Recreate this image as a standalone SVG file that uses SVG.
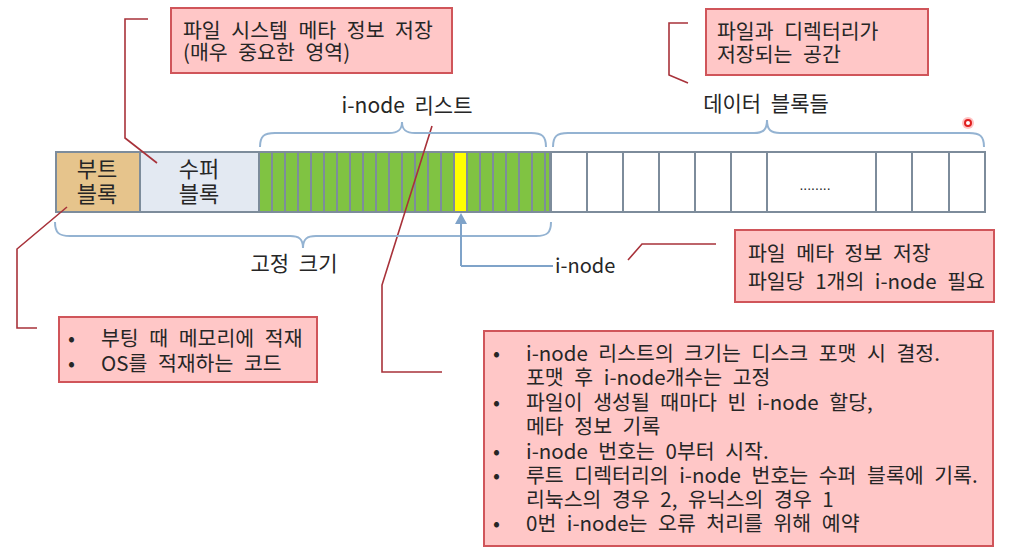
<svg xmlns="http://www.w3.org/2000/svg" width="1010" height="555" viewBox="0 0 1010 555">
<style>
text{font-family:"Noto Sans CJK KR","Noto Sans",sans-serif;fill:#262626;}
.tn{font-size:20.5px;word-spacing:6px;}
.tl{font-size:21px;word-spacing:5px;}
.tb{font-size:22px;}
.box{fill:#ffc7c7;stroke:#d0555a;stroke-width:2;}
.call{fill:none;stroke:#a8323a;stroke-width:1.6;}
.brace{fill:none;stroke:#94b3d2;stroke-width:2;}
.cell{stroke:#7d8c9b;stroke-width:2;}
.mid{text-anchor:middle;}
</style>
<rect width="1010" height="555" fill="#ffffff"/>

<g id="bar">
  <g id="boot-block">
    <rect x="56" y="152" width="84" height="60" fill="#e6c48c" class="cell"/>
    <text class="tb mid" x="97" y="177">부트<tspan x="97" dy="25">블록</tspan></text>
  </g>
  <g id="super-block">
    <rect x="140" y="152" width="119" height="60" fill="#e3e9f2" class="cell"/>
    <text class="tb mid" x="199" y="177">수퍼<tspan x="199" dy="25">블록</tspan></text>
  </g>
  <g id="inode-list">
    <rect x="259" y="152" width="291" height="60" fill="#80c342" class="cell"/>
    <rect x="454" y="153" width="13" height="58" fill="#ffff00"/>
    <path class="cell" d="M272,152V212M285,152V212M298,152V212M311,152V212M324,152V212M337,152V212M350,152V212M363,152V212M376,152V212M389,152V212M402,152V212M415,152V212M428,152V212M441,152V212M454,152V212M467,152V212M480,152V212M493,152V212M506,152V212M519,152V212M532,152V212M545,152V212"/>
  </g>
  <g id="data-blocks">
    <rect x="551" y="152" width="434" height="60" fill="#ffffff" class="cell"/>
    <path class="cell" d="M587,152V212M623,152V212M659,152V212M695,152V212M731,152V212M767,152V212M876,152V212M912,152V212M949,152V212"/>
    <text x="815" y="190" class="mid" style="font-size:14px;font-family:'Liberation Sans',sans-serif;">........</text>
  </g>
</g>

<g id="connectors">
  <path class="call" d="M148,19 H125 V138 L157,163"/>
  <path class="call" d="M67,207 L17,249 V328 H37"/>
  <path class="call" d="M432,126 L382,285 V372 H442"/>
  <path class="call" d="M688,23 H669 V75 L688,83"/>
  <path class="call" d="M628,260 L642,244 H716"/>
  <path class="brace" d="M260,147 C260,136 264,133 275,133 H389 C398,133 402,130 402,122 C402,130 406,133 415,133 H531 C542,133 546,136 546,147"/>
  <path class="brace" d="M553,147 C553,136 557,133 568,133 H754 C763,133 767,130 767,120 C767,130 771,133 780,133 H969 C980,133 984,136 984,147"/>
  <path class="brace" d="M55,222 C55,233 59,236 70,236 H290 C299,236 303,239 303,248 C303,239 307,236 316,236 H536 C547,236 551,233 551,222"/>
  <path d="M461,266 V222 M461,266 H553" fill="none" stroke="#7fa3c9" stroke-width="2"/>
  <path d="M461,213 L455,224 L467,224 Z" fill="#7fa3c9"/>
</g>

<g id="labels">
  <text class="tl mid" x="407" y="113">i-node 리스트</text>
  <text class="tl mid" x="766" y="111">데이터 블록들</text>
  <text class="tl mid" x="294" y="271">고정 크기</text>
  <text class="tl" x="555" y="273" style="font-size:20px">i-node</text>
</g>

<g id="note-superblock">
  <rect class="box" x="171" y="8" width="281" height="65"/>
  <text class="tn" x="183" y="38">파일 시스템 메타 정보 저장<tspan x="183" dy="22">(매우 중요한 영역)</tspan></text>
</g>

<g id="note-data">
  <rect class="box" x="706" y="9" width="222" height="66"/>
  <text class="tn" x="717" y="39">파일과 디렉터리가<tspan x="717" dy="23">저장되는 공간</tspan></text>
</g>

<g id="note-inode">
  <rect class="box" x="735" y="230" width="259" height="72"/>
  <text class="tn" x="748" y="261">파일 메타 정보 저장<tspan x="748" dy="28">파일당 1개의 i-node 필요</tspan></text>
</g>

<g id="note-boot">
  <rect class="box" x="59" y="317" width="258" height="65"/>
  <text class="tn" x="68" y="346">•<tspan x="68" dy="25">•</tspan></text>
  <text class="tn" x="101" y="346">부팅 때 메모리에 적재<tspan x="101" dy="25">OS를 적재하는 코드</tspan></text>
</g>

<g id="note-list">
  <rect class="box" x="484" y="331" width="509" height="215"/>
  <text class="tn" x="493" y="361">•<tspan x="493" dy="49">•</tspan><tspan x="493" dy="49">•</tspan><tspan x="493" dy="24">•</tspan><tspan x="493" dy="48">•</tspan></text>
  <text class="tn" x="526" y="361">i-node 리스트의 크기는 디스크 포맷 시 결정.<tspan x="526" dy="24">포맷 후 i-node개수는 고정</tspan><tspan x="526" dy="25">파일이 생성될 때마다 빈 i-node 할당,</tspan><tspan x="526" dy="24">메타 정보 기록</tspan><tspan x="526" dy="25">i-node 번호는 0부터 시작.</tspan><tspan x="526" dy="24">루트 디렉터리의 i-node 번호는 수퍼 블록에 기록.</tspan><tspan x="526" dy="24">리눅스의 경우 2, 유닉스의 경우 1</tspan><tspan x="526" dy="24">0번 i-node는 오류 처리를 위해 예약</tspan></text>
</g>

<g id="pointer">
  <circle cx="968" cy="123" r="6" fill="#ff9a9a" opacity="0.6"/>
  <circle cx="968" cy="123" r="3" fill="#ffffff" stroke="#e02020" stroke-width="2"/>
</g>
</svg>
